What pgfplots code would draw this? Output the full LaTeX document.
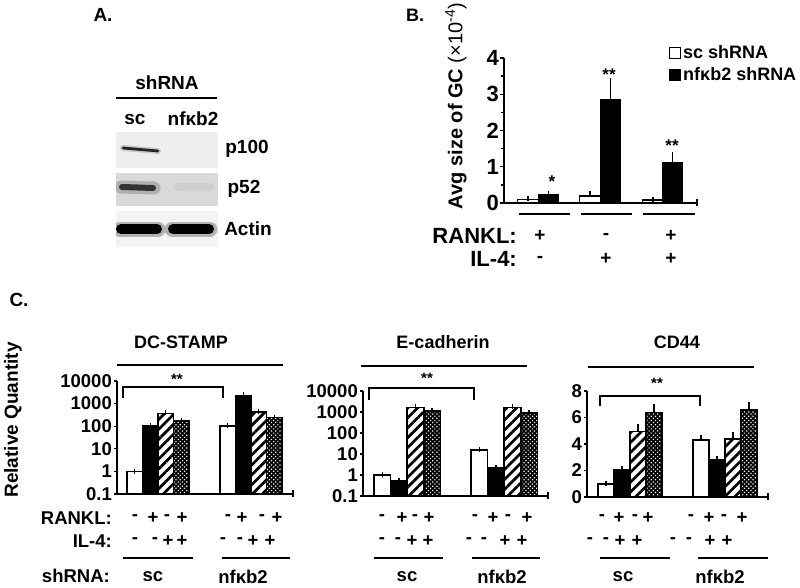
\documentclass[border=0pt]{standalone}
\usepackage{fontspec}
\setmainfont{Liberation Sans}
\usepackage{pgfplots}
\pgfplotsset{compat=1.18}
\usetikzlibrary{patterns.meta}
\newcommand\fs[1]{\fontsize{#1}{#1}\selectfont\bfseries}

\pgfplotsset{
  panelC/.style={scale only axis, axis lines*=left, axis line style={line width=1.6pt},
    xtick=\empty, tick align=outside, major tick length=3pt, tick style={line width=1.3pt,black},
    yticklabel style={font=\fs{18.5}, inner xsep=2pt}, yminorticks=false,
    /pgf/number format/assume math mode=true, clip=false, ybar, bar shift=0pt},
  whitebar/.style={fill=white, draw=black, line width=1.6pt},
  blackbar/.style={fill=black, draw=black, line width=1.6pt},
  hatchbar/.style={draw=black, line width=1.6pt, pattern={Lines[angle=45,distance=7pt,line width=2.7pt]}, pattern color=black},
  crossbar/.style={draw=black, line width=1.6pt, fill=black, postaction={pattern={Dots[distance=3pt,radius=0.85pt,angle=45]}, pattern color=white}},
  eb/.style={error bars/.cd, y dir=plus, y explicit, error bar style={line width=1.4pt, black}, error mark options={line width=1.4pt, mark size=2.5pt, black}},
}

\begin{document}
\begin{tikzpicture}
\path[use as bounding box] (0,0) rectangle (800pt,-588pt);

% ---------- Panel A: blot ----------
\begin{axis}[scale only axis, width=102pt, height=115pt, at={(116pt,-247pt)}, anchor=south west,
  xmin=116, xmax=218, ymin=132, ymax=247, y dir=reverse, hide axis, clip=true]
\addplot[draw=none, fill=gray!13] coordinates {(116,132)(218,132)(218,168)(116,168)} -- cycle;
\addplot[draw=none, fill=gray!30] coordinates {(116,173)(218,173)(218,206)(116,206)} -- cycle;
\addplot[draw=none, fill=gray!9] coordinates {(116,211)(218,211)(218,247)(116,247)} -- cycle;
% p100
\addplot[gray!60, line width=6pt, line cap=round, opacity=0.6] coordinates {(123,148)(158,151)};
\addplot[black!85, line width=2.8pt, line cap=round] coordinates {(123,148)(158,151)};
% p52
\addplot[gray!75, line width=13pt, line cap=round, opacity=0.7] coordinates {(121,187)(154,188)};
\addplot[black!80, line width=6pt, line cap=round] coordinates {(122,187)(153,188)};
\addplot[gray!45, line width=8pt, line cap=round, opacity=0.5] coordinates {(178,187)(210,187)};
% Actin
\addplot[gray!60, line width=15pt, line cap=round] coordinates {(120,229)(158,229)};
\addplot[black, line width=10pt, line cap=round] coordinates {(121,229)(157,229)};
\addplot[gray!60, line width=15pt, line cap=round] coordinates {(172,229)(210,229)};
\addplot[black, line width=10pt, line cap=round] coordinates {(173,229)(209,229)};
\end{axis}

% ---------- Panel B ----------
\begin{axis}[scale only axis, width=193pt, height=145pt, at={(504pt,-203pt)}, anchor=south west,
  xmin=0, xmax=193, ymin=0, ymax=4, axis lines*=left, axis line style={line width=1.6pt},
  xtick=\empty, ytick={0,1,2,3,4}, minor ytick={0.5,1.5,2.5,3.5},
  tick align=outside, major tick length=4pt, minor tick length=3pt, tick style={line width=1.3pt,black},
  yticklabel style={font=\fs{22}, inner xsep=1pt},
  /pgf/number format/assume math mode=true, clip=false,
  ybar, bar width=20.5, bar shift=0pt,
  legend image code/.code={\draw[#1] (0pt,-5.5pt) rectangle (11pt,5pt);},
  legend style={at={(rel axis cs:0.855,1.10)}, anchor=north west, draw=none, fill=none,
    font=\fs{18}, inner sep=0pt, row sep=3pt, cells={anchor=west}}]
\addlegendimage{fill=white, draw=black, line width=1pt}
\addlegendentry{sc shRNA}
\addlegendimage{fill=black, draw=black, line width=1pt}
\addlegendentry{nfκb2 shRNA}
\addplot[whitebar, line width=1.4pt, eb] coordinates {(24,0.10) +- (0,0.02) (86,0.19) +- (0,0.07) (149,0.08) +- (0,0.02)};
\addplot[blackbar, line width=1.4pt, eb] coordinates {(44.5,0.22) +- (0,0.03) (106.5,2.84) +- (0,0.53) (168.5,1.11) +- (0,0.23)};
\end{axis}

% ---------- Panel C: DC-STAMP ----------
\begin{axis}[panelC, width=176pt, height=113pt, at={(117pt,-494pt)}, anchor=south west,
  xmin=0, xmax=176, ymode=log, log origin=infty, ymin=0.1, ymax=10000,
  ytick={0.1,1,10,100,1000,10000}, yticklabels={0.1,1,10,100,1000,10000}, bar width=15.5]
\addplot[whitebar, eb] coordinates {(17.75,1.0) +- (0,0.03) (110.75,105) +- (0,3)};
\addplot[blackbar, eb] coordinates {(33.25,100) +- (0,5) (126.25,2300) +- (0,150)};
\addplot[hatchbar, eb] coordinates {(48.75,370) +- (0,20) (141.75,430) +- (0,40)};
\addplot[crossbar, eb] coordinates {(64.25,170) +- (0,8) (157.25,240) +- (0,10)};
\end{axis}

% ---------- Panel C: E-cadherin ----------
\begin{axis}[panelC, width=185pt, height=105pt, at={(363pt,-496pt)}, anchor=south west,
  xmin=0, xmax=185, ymode=log, log origin=infty, ymin=0.1, ymax=10000,
  ytick={0.1,1,10,100,1000,10000}, yticklabels={0.1,1,10,100,1000,10000}, bar width=16.6]
\addplot[whitebar, eb] coordinates {(19.3,1.0) +- (0,0.1) (116.3,15.4) +- (0,1)};
\addplot[blackbar, eb] coordinates {(35.9,0.52) +- (0,0.03) (132.9,2.1) +- (0,0.1)};
\addplot[hatchbar, eb] coordinates {(52.5,1650) +- (0,250) (149.5,1650) +- (0,100)};
\addplot[crossbar, eb] coordinates {(69.1,1100) +- (0,50) (166.1,870) +- (0,50)};
\end{axis}

% ---------- Panel C: CD44 ----------
\begin{axis}[panelC, width=181pt, height=106pt, at={(587pt,-497pt)}, anchor=south west,
  xmin=0, xmax=181, ymin=0, ymax=8, ytick={0,2,4,6,8}, bar width=16]
\addplot[whitebar, eb] coordinates {(19,1.0) +- (0,0.05) (114,4.3) +- (0,0.17)};
\addplot[blackbar, eb] coordinates {(35,2.05) +- (0,0.12) (130,2.83) +- (0,0.1)};
\addplot[hatchbar, eb] coordinates {(51,4.93) +- (0,0.37) (146,4.38) +- (0,0.37)};
\addplot[crossbar, eb] coordinates {(67,6.37) +- (0,0.45) (162,6.55) +- (0,0.4)};
\end{axis}

% ---------- annotations (pixel coordinates) ----------
\begin{scope}[x=1pt,y=-1pt]
% Panel A
\node[font=\fs{19}] at (103,15) {A.};
\node[font=\fs{19}] at (167,83) {shRNA};
\draw[line width=1.6pt] (116,98) -- (217,98);
\node[font=\fs{19}] at (135,119) {sc};
\node[font=\fs{19}] at (193,119) {nfκb2};
\node[font=\fs{19}] at (247,149) {p100};
\node[font=\fs{19}] at (244,189) {p52};
\node[font=\fs{19}] at (248,229) {Actin};
% Panel B
\node[font=\fs{18}] at (415,15) {B.};
\node[rotate=90, font=\fs{20}] at (456,106) {Avg size of GC \mdseries(×10\textsuperscript{-4})};
\node[font=\fs{17}] at (552,182) {*};
\node[font=\fs{17}] at (609,75) {**};
\node[font=\fs{17}] at (672,146) {**};
\draw[line width=1.4pt] (697,199) -- (697,206);
\foreach \a/\b in {519/570, 581/632, 643/695} \draw[line width=1.6pt] (\a,214) -- (\b,214);
\node[font=\fs{22}, anchor=east, inner sep=0pt] at (517,236) {RANKL:};
\node[font=\fs{22}, anchor=east, inner sep=0pt] at (517,259) {IL-4:};
\foreach \x/\s in {540/+, 606/-, 671/+} \node[font=\fs{19}, inner sep=0pt] at (\x,236) {\s};
\foreach \x/\s in {540/-, 606/+, 671/+} \node[font=\fs{19}, inner sep=0pt] at (\x,259) {\s};
% Panel C
\node[font=\fs{19}] at (19,300) {C.};
\node[rotate=90, font=\fs{19}] at (13,420) {Relative Quantity};
\node[font=\fs{18}] at (181,342) {DC-STAMP};
\node[font=\fs{18}] at (443,342) {E-cadherin};
\node[font=\fs{18}] at (677,342) {CD44};
\draw[line width=1.6pt] (117,365) -- (283,365);
\draw[line width=1.6pt] (361,366) -- (527,366);
\draw[line width=1.6pt] (588,367) -- (754,367);
% brackets
\draw[line width=1.3pt] (123,398) -- (123,387) -- (223,387) -- (223,398);
\node[font=\fs{15}] at (177,379) {**};
\draw[line width=1.3pt] (369,400) -- (369,388) -- (474,388) -- (474,400);
\node[font=\fs{15}] at (427,378) {**};
\draw[line width=1.3pt] (600,406) -- (600,396) -- (700,396) -- (700,406);
\node[font=\fs{15}] at (657,383) {**};
% right-end ticks
\draw[line width=1.3pt] (293,490) -- (293,497);
\draw[line width=1.3pt] (548,492) -- (548,499);
\draw[line width=1.3pt] (768,493) -- (768,500);
% row labels
\node[font=\fs{18.5}, anchor=east, inner sep=0pt] at (112,518) {RANKL:};
\node[font=\fs{18.5}, anchor=east, inner sep=0pt] at (112,541) {IL-4:};
\node[font=\fs{18.5}, anchor=east, inner sep=0pt] at (110,576) {shRNA:};
% signs
\foreach \x/\s in {135/-, 153/+, 167/-, 182/+, 228/-, 242/+, 262/-, 277/+,
                   382/-, 402/+, 415/-, 429/+, 475/-, 493/+, 508/-, 527/+,
                   602/-, 619/+, 635/-, 648/+, 691/-, 709/+, 724/-, 742/+}
  \node[font=\fs{18.5}, inner sep=0pt] at (\x,518) {\s};
\foreach \x/\s in {135/-, 155/-, 168/+, 182/+, 223/-, 240/-, 253/+, 270/+,
                   382/-, 398/-, 412/+, 428/+, 469/-, 484/-, 505/+, 522/+,
                   590/-, 606/-, 620/+, 637/+, 673/-, 689/-, 710/+, 727/+}
  \node[font=\fs{18.5}, inner sep=0pt] at (\x,541) {\s};
\foreach \a/\b in {123/193, 222/290, 374/443, 472/540, 600/670, 698/768}
  \draw[line width=1.6pt] (\a,558) -- (\b,558);
\foreach \x/\s in {153/sc, 243/nfκb2, 407/sc, 502/nfκb2, 623/sc, 720/nfκb2}
  \node[font=\fs{18.5}] at (\x,577) {\s};
\end{scope}
\end{tikzpicture}
\end{document}
